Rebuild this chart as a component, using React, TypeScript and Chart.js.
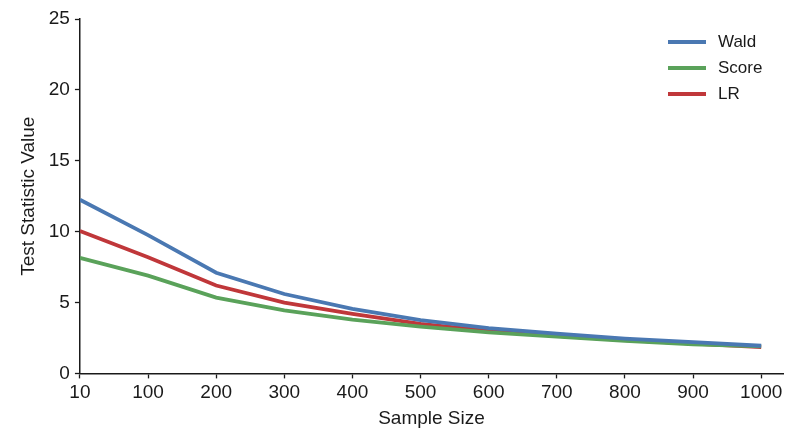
import { useEffect, useRef } from 'react'
import { Chart, registerables } from 'chart.js'

Chart.register(...registerables)

const sampleSizes = ['10', '100', '200', '300', '400', '500', '600', '700', '800', '900', '1000']
const wald = [12.25, 9.75, 7.1, 5.6, 4.55, 3.75, 3.2, 2.8, 2.45, 2.2, 1.95]
const score = [8.15, 6.9, 5.35, 4.45, 3.8, 3.3, 2.9, 2.6, 2.3, 2.05, 1.9]
const lr = [10.05, 8.2, 6.2, 5.0, 4.2, 3.5, 3.0, 2.65, 2.35, 2.1, 1.85]
const yTicks = [0, 5, 10, 15, 20, 25]

const SERIES = [
  { label: 'Wald', data: wald, color: '#4a78b2' },
  { label: 'Score', data: score, color: '#5aa25a' },
  { label: 'LR', data: lr, color: '#c0373a' },
]

const FONT = 'Liberation Sans, Arial, Helvetica, sans-serif'
const INK = '#1a1a1a'

export default function App() {
  const ref = useRef<HTMLCanvasElement>(null)
  const chart = useRef<Chart | null>(null)

  useEffect(() => {
    document.body.style.margin = '0'
    if (!ref.current) return
    chart.current?.destroy()
    chart.current = new Chart(ref.current, {
      type: 'line',
      data: {
        datasets: SERIES.map(s => ({
          label: s.label,
          data: s.data.map((y, i) => ({ x: i, y })),
          borderColor: s.color,
          backgroundColor: s.color,
          borderWidth: 3.8,
          pointRadius: 0,
          tension: 0,
        })),
      },
      options: {
        responsive: false,
        animation: false,
        layout: { padding: { left: 13, right: 17, top: 19, bottom: 13 } },
        plugins: { legend: { display: false }, tooltip: { enabled: false } },
        scales: {
          x: {
            type: 'linear', min: 0, max: 10.32,
            afterBuildTicks: ax => { ax.ticks = sampleSizes.map((_, i) => ({ value: i })) },
            ticks: { color: INK, font: { family: FONT, size: 19 }, padding: 3, maxRotation: 0,
              callback: v => sampleSizes[v as number] },
            grid: { drawOnChartArea: false, tickLength: 5, tickColor: INK, tickWidth: 1.3 },
            border: { color: INK, width: 1.5 },
            title: { display: true, text: 'Sample Size', color: INK, font: { family: FONT, size: 19 }, padding: { top: 0 } },
          },
          y: {
            min: 0, max: 25,
            afterBuildTicks: ax => { ax.ticks = yTicks.map(v => ({ value: v })) },
            ticks: { color: INK, font: { family: FONT, size: 19 }, padding: 5 },
            grid: { drawOnChartArea: false, tickLength: 5, tickColor: INK, tickWidth: 1.3 },
            border: { color: INK, width: 1.5 },
            title: { display: true, text: 'Test Statistic Value', color: INK, font: { family: FONT, size: 19 }, padding: { bottom: 4 } },
          },
        },
      },
    })
    return () => chart.current?.destroy()
  }, [])

  return (
    <div style={{ position: 'relative', width: 800, height: 447, background: '#fff' }}>
      <canvas ref={ref} width={800} height={447} />
      <div style={{ position: 'absolute', left: 668, top: 29, fontFamily: FONT, fontSize: 17, color: INK }}>
        {SERIES.map(s => (
          <div key={s.label} style={{ display: 'flex', alignItems: 'center', height: 26 }}>
            <span style={{ display: 'inline-block', width: 38, height: 4, background: s.color, marginRight: 12 }} />
            {s.label}
          </div>
        ))}
      </div>
    </div>
  )
}
